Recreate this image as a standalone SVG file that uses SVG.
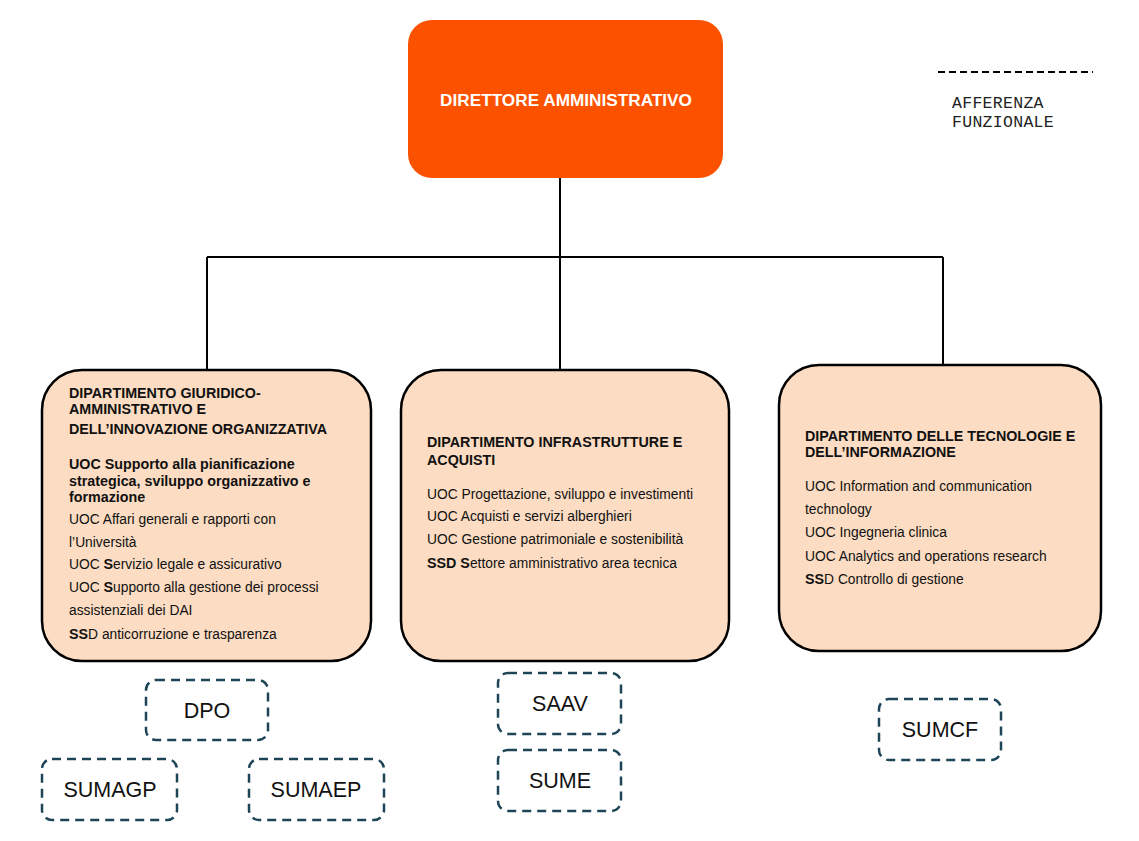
<svg xmlns="http://www.w3.org/2000/svg" width="1139" height="841" viewBox="0 0 1139 841">
<style>
.dept{fill:#FCDCC2;stroke:#000;stroke-width:2.5}
.t{font-family:"Liberation Sans",Arial,sans-serif;font-size:13.8px;fill:#111}
.b{font-weight:bold;font-size:14.3px}
.dash{fill:#fff;stroke:#1E4557;stroke-width:2.5;stroke-dasharray:9 6}
.lab{font-family:"Liberation Sans",Arial,sans-serif;font-size:21.5px;fill:#111;text-anchor:middle}
.conn{fill:none;stroke:#000;stroke-width:2}
.leg{font-family:"Liberation Mono",monospace;font-size:16.5px;letter-spacing:0.3px;fill:#222}
</style>
<rect width="1139" height="841" fill="#fff"/>
<g id="connectors">
<path class="conn" d="M560 178V257M207 257H943M207 257V370M560 257V370M943 257V365"/>
</g>
<g id="direttore">
<rect x="408" y="20" width="315" height="158" rx="24" fill="#FC5200"/>
<text x="566" y="106" text-anchor="middle" font-family="Liberation Sans,Arial,sans-serif" font-weight="bold" font-size="17.2" fill="#fff">DIRETTORE AMMINISTRATIVO</text>
</g>
<g id="legend">
<line x1="938" y1="72" x2="1093" y2="72" stroke="#000" stroke-width="2" stroke-dasharray="7 4"/>
<text class="leg" x="952" y="108">AFFERENZA</text>
<text class="leg" x="952" y="127">FUNZIONALE</text>
</g>
<g id="dip-giuridico">
<rect class="dept" x="42" y="370" width="329" height="291" rx="40"/>
<text class="t b" x="69" y="398">DIPARTIMENTO GIURIDICO-</text>
<text class="t b" x="69" y="414">AMMINISTRATIVO E</text>
<text class="t b" x="69" y="434">DELL’INNOVAZIONE ORGANIZZATIVA</text>
<text class="t b" x="69" y="469">UOC Supporto alla pianificazione</text>
<text class="t b" x="69" y="486">strategica, sviluppo organizzativo e</text>
<text class="t b" x="69" y="502">formazione</text>
<text class="t" x="69" y="524">UOC Affari generali e rapporti con</text>
<text class="t" x="69" y="547">l’Università</text>
<text class="t" x="69" y="569">UOC <tspan class="b">S</tspan>ervizio legale e assicurativo</text>
<text class="t" x="69" y="592">UOC <tspan class="b">S</tspan>upporto alla gestione dei processi</text>
<text class="t" x="69" y="615">assistenziali dei DAI</text>
<text class="t" x="69" y="639"><tspan class="b">SS</tspan>D anticorruzione e trasparenza</text>
</g>
<g id="dip-infrastrutture">
<rect class="dept" x="401" y="370" width="328" height="291" rx="40"/>
<text class="t b" x="427" y="447">DIPARTIMENTO INFRASTRUTTURE E</text>
<text class="t b" x="427" y="465">ACQUISTI</text>
<text class="t" x="427" y="499">UOC Progettazione, sviluppo e investimenti</text>
<text class="t" x="427" y="521">UOC Acquisti e servizi alberghieri</text>
<text class="t" x="427" y="544">UOC Gestione patrimoniale e sostenibilità</text>
<text class="t" x="427" y="568"><tspan class="b">SSD S</tspan>ettore amministrativo area tecnica</text>
</g>
<g id="dip-tecnologie">
<rect class="dept" x="779" y="365" width="322" height="286" rx="40"/>
<text class="t b" x="805" y="441">DIPARTIMENTO DELLE TECNOLOGIE E</text>
<text class="t b" x="805" y="457">DELL’INFORMAZIONE</text>
<text class="t" x="805" y="491">UOC Information and communication</text>
<text class="t" x="805" y="514">technology</text>
<text class="t" x="805" y="537">UOC Ingegneria clinica</text>
<text class="t" x="805" y="561">UOC Analytics and operations research</text>
<text class="t" x="805" y="584"><tspan class="b">SS</tspan>D Controllo di gestione</text>
</g>
<g id="dpo"><rect class="dash" x="146" y="680" width="122" height="60" rx="10"/><text class="lab" x="207" y="718">DPO</text></g>
<g id="sumagp"><rect class="dash" x="42" y="759" width="135" height="61" rx="10"/><text class="lab" x="110" y="797">SUMAGP</text></g>
<g id="sumaep"><rect class="dash" x="249" y="759" width="135" height="61" rx="10"/><text class="lab" x="316" y="797">SUMAEP</text></g>
<g id="saav"><rect class="dash" x="498" y="673" width="123" height="61" rx="10"/><text class="lab" x="560" y="711">SAAV</text></g>
<g id="sume"><rect class="dash" x="498" y="750" width="123" height="61" rx="10"/><text class="lab" x="560" y="788">SUME</text></g>
<g id="sumcf"><rect class="dash" x="879" y="699" width="122" height="61" rx="10"/><text class="lab" x="940" y="737">SUMCF</text></g>
</svg>
